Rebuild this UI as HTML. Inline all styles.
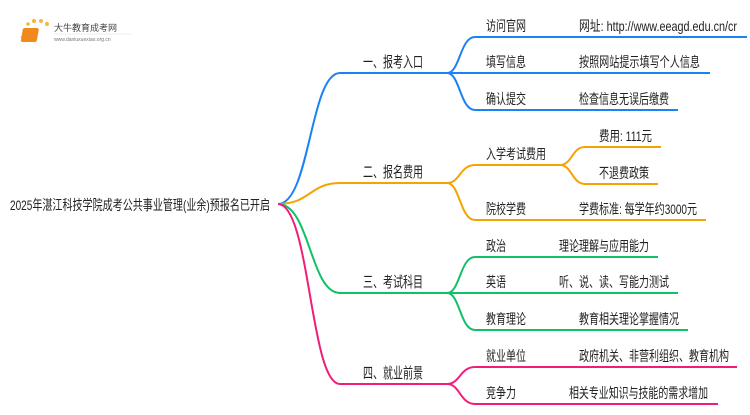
<!DOCTYPE html>
<html><head><meta charset="utf-8"><style>
body{margin:0;background:#fff;}
text{font-family:"Liberation Sans","Noto Sans CJK SC",sans-serif;fill:#222;}
</style></head><body>
<svg width="750" height="410" viewBox="0 0 750 410" xmlns="http://www.w3.org/2000/svg">
<g>
<circle cx="24" cy="30" r="1.5" fill="#f5b63a"/><circle cx="28" cy="24" r="1.8" fill="#f5b63a"/><circle cx="34" cy="21" r="2" fill="#f5b63a"/><circle cx="41" cy="21" r="2" fill="#f5b63a"/><circle cx="47" cy="24" r="2" fill="#f5b63a"/><circle cx="22" cy="37" r="1.2" fill="#f5b63a"/>
<rect x="28" y="28" width="16" height="14" rx="2" fill="#f08a1c" transform="skewX(-10)"/>
<text x="54" y="31" font-size="9" style="fill:#444">大牛教育成考网</text>
<text x="54" y="41" font-size="5" style="fill:#777">www.daniuxuexiao.org.cn</text>
<line x1="54" y1="34" x2="132" y2="34" stroke="#ddd" stroke-width="0.5"/>
</g>
<text x="10" y="210" font-size="14" textLength="260" lengthAdjust="spacingAndGlyphs">2025年湛江科技学院成考公共事业管理(业余)预报名已开启</text>
<g fill="none" stroke-width="2">
<path d="M278 204 C310 204 310 73 340 73 L447 73" stroke="#1a82f5"/>
<path d="M278 204 C310 204 310 183 340 183 L447 183" stroke="#f5a300"/>
<path d="M278 204 C310 204 310 293 340 293 L447 293" stroke="#12c06a"/>
<path d="M278 204 C310 204 310 384 340 384 L447 384" stroke="#f01e78"/>
<g stroke="#1a82f5">
<path d="M447 73 C460 73 460 37 475 37 L747 37"/>
<path d="M447 73 L710 73"/>
<path d="M447 73 C460 73 460 110 475 110 L678 110"/>
</g>
<g stroke="#f5a300">
<path d="M447 183 C460 183 460 165 475 165 L560 165"/>
<path d="M447 183 C460 183 460 220 475 220 L706 220"/>
<path d="M560 165 C572 165 572 147 585 147 L661 147"/>
<path d="M560 165 C572 165 572 184 585 184 L658 184"/>
</g>
<g stroke="#12c06a">
<path d="M447 293 C460 293 460 257 475 257 L658 257"/>
<path d="M447 293 L678 293"/>
<path d="M447 293 C460 293 460 330 475 330 L688 330"/>
</g>
<g stroke="#f01e78">
<path d="M447 384 C460 384 460 367 475 367 L737 367"/>
<path d="M447 384 C460 384 460 404 475 404 L718 404"/>
</g>
</g>
<g font-size="15" lengthAdjust="spacingAndGlyphs">
<text x="363" y="67" textLength="60" lengthAdjust="spacingAndGlyphs">一、报考入口</text>
<text x="363" y="177" textLength="60" lengthAdjust="spacingAndGlyphs">二、报名费用</text>
<text x="363" y="287" textLength="60" lengthAdjust="spacingAndGlyphs">三、考试科目</text>
<text x="363" y="378" textLength="60" lengthAdjust="spacingAndGlyphs">四、就业前景</text>
</g>
<g font-size="14">
<text x="486" y="31" textLength="40" lengthAdjust="spacingAndGlyphs">访问官网</text>
<text x="579" y="31" textLength="158" lengthAdjust="spacingAndGlyphs">网址: http://www.eeagd.edu.cn/cr</text>
<text x="486" y="67" textLength="40" lengthAdjust="spacingAndGlyphs">填写信息</text>
<text x="579" y="67" textLength="121" lengthAdjust="spacingAndGlyphs">按照网站提示填写个人信息</text>
<text x="486" y="104" textLength="40" lengthAdjust="spacingAndGlyphs">确认提交</text>
<text x="579" y="104" textLength="90" lengthAdjust="spacingAndGlyphs">检查信息无误后缴费</text>
<text x="486" y="159" textLength="60" lengthAdjust="spacingAndGlyphs">入学考试费用</text>
<text x="599" y="141" textLength="53" lengthAdjust="spacingAndGlyphs">费用: 111元</text>
<text x="599" y="178" textLength="50" lengthAdjust="spacingAndGlyphs">不退费政策</text>
<text x="486" y="214" textLength="40" lengthAdjust="spacingAndGlyphs">院校学费</text>
<text x="579" y="214" textLength="118" lengthAdjust="spacingAndGlyphs">学费标准: 每学年约3000元</text>
<text x="486" y="251" textLength="20" lengthAdjust="spacingAndGlyphs">政治</text>
<text x="559" y="251" textLength="90" lengthAdjust="spacingAndGlyphs">理论理解与应用能力</text>
<text x="486" y="287" textLength="20" lengthAdjust="spacingAndGlyphs">英语</text>
<text x="559" y="287" textLength="110" lengthAdjust="spacingAndGlyphs">听、说、读、写能力测试</text>
<text x="486" y="324" textLength="40" lengthAdjust="spacingAndGlyphs">教育理论</text>
<text x="579" y="324" textLength="100" lengthAdjust="spacingAndGlyphs">教育相关理论掌握情况</text>
<text x="486" y="361" textLength="40" lengthAdjust="spacingAndGlyphs">就业单位</text>
<text x="579" y="361" textLength="150" lengthAdjust="spacingAndGlyphs">政府机关、非营利组织、教育机构</text>
<text x="486" y="398" textLength="30" lengthAdjust="spacingAndGlyphs">竞争力</text>
<text x="569" y="398" textLength="139" lengthAdjust="spacingAndGlyphs">相关专业知识与技能的需求增加</text>
</g>
</svg>
</body></html>
